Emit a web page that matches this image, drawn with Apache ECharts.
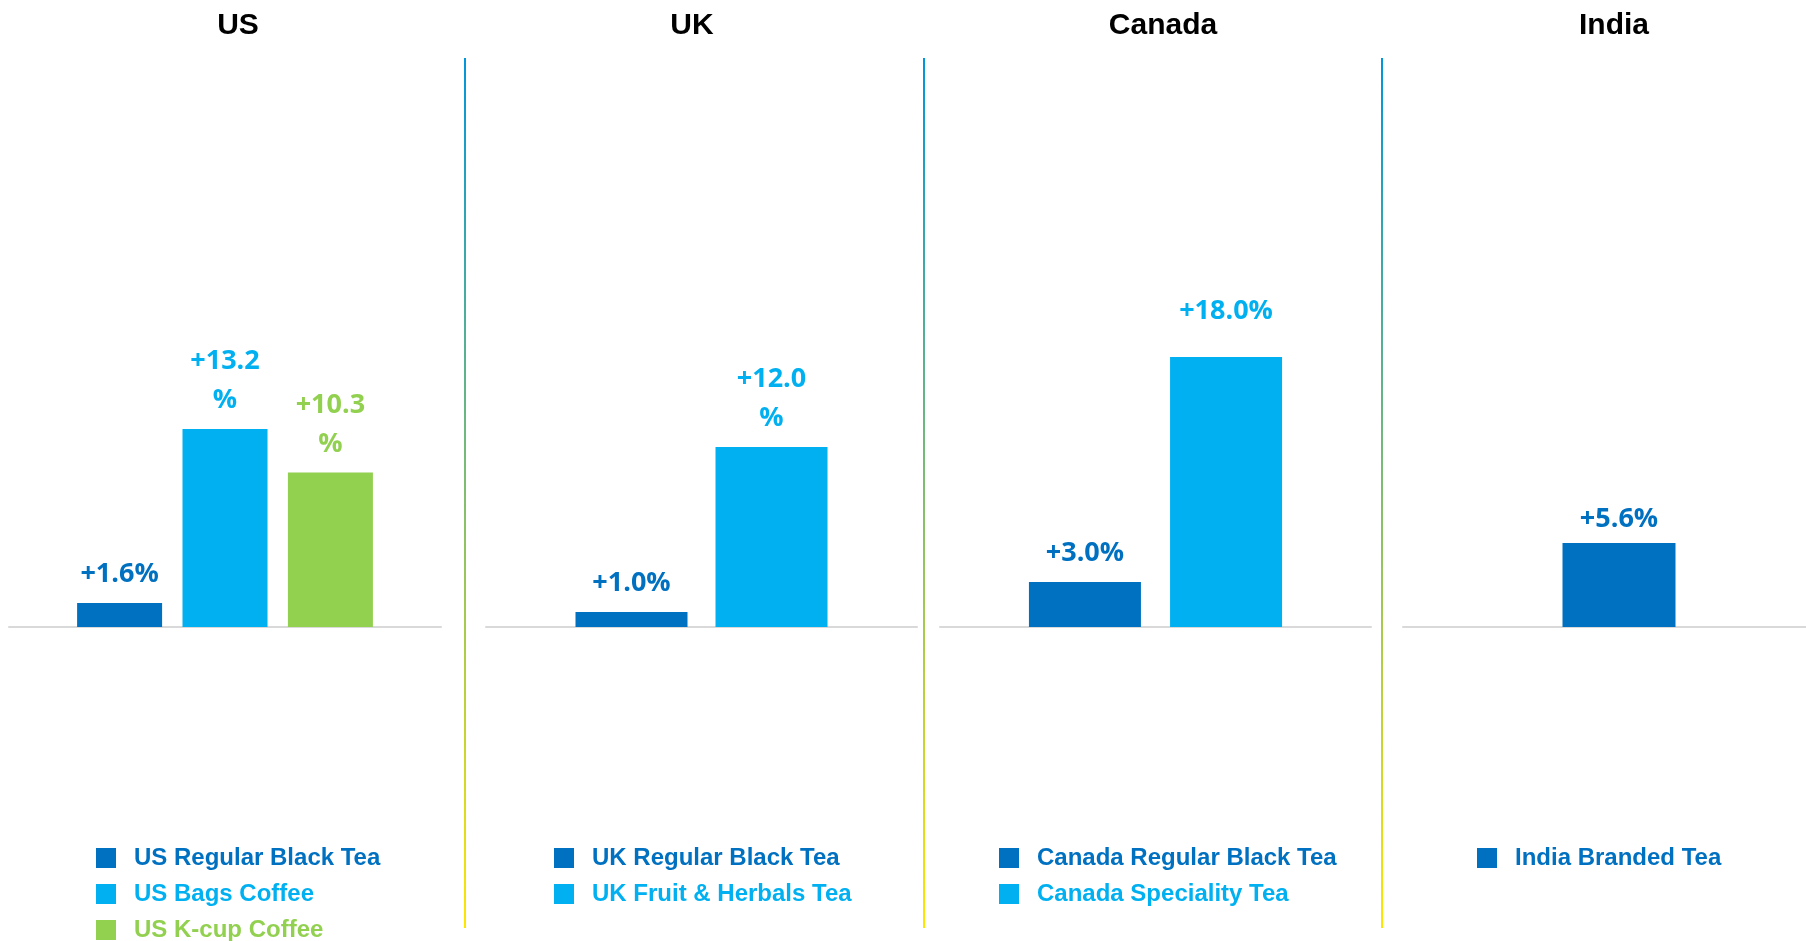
<!DOCTYPE html>
<html>
<head>
<meta charset="utf-8">
<script src="https://cdn.jsdelivr.net/npm/echarts@6/dist/echarts.min.js"></script>
<style>
  html, body { margin: 0; padding: 0; background: #fff; }
  #chart { width: 1806px; height: 941px; }
</style>
</head>
<body>
<div id="chart"></div>
<script>
// panels (country titles)
var countries = ['US', 'UK', 'Canada', 'India'];

// series names and growth values per country
var usNames = ['US Regular Black Tea', 'US Bags Coffee', 'US K-cup Coffee'];
var usValues = [1.6, 13.2, 10.3];
var usLabels = ['+1.6%', '+13.2\n%', '+10.3\n%'];

var ukNames = ['UK Regular Black Tea', 'UK Fruit & Herbals Tea'];
var ukValues = [1.0, 12.0];
var ukLabels = ['+1.0%', '+12.0\n%'];

var caNames = ['Canada Regular Black Tea', 'Canada Speciality Tea'];
var caValues = [3.0, 18.0];
var caLabels = ['+3.0%', '+18.0%'];

var inNames = ['India Branded Tea'];
var inValues = [5.6];
var inLabels = ['+5.6%'];

var colors = ['#0070C0', '#00B0F0', '#92D050'];

var myChart = echarts.init(document.getElementById('chart'));

// layout for each panel
var panels = [
  {names: usNames, values: usValues, labels: usLabels, left: 9,    right: 1365, barWidth: 85,  gap: '24%', titleX: 238,  legendX: 96,   dist: [9, 9, 9]},
  {names: ukNames, values: ukValues, labels: ukLabels, left: 486,  right: 889,  barWidth: 112, gap: '25%', titleX: 692,  legendX: 554,  dist: [9, 9]},
  {names: caNames, values: caValues, labels: caLabels, left: 940,  right: 435,  barWidth: 112, gap: '26%', titleX: 1163, legendX: 999,  dist: [9, 26]},
  {names: inNames, values: inValues, labels: inLabels, left: 1403, right: -29,  barWidth: 113, gap: '25%', titleX: 1614, legendX: 1477, dist: [4]}
];

var grids = [], xAxes = [], yAxes = [], series = [], legends = [], graphics = [];

panels.forEach(function (p, i) {
  grids.push({left: p.left, right: p.right, top: 177, bottom: 164, outerBoundsMode: 'none'});
  xAxes.push({
    type: 'category', gridIndex: i, data: [''],
    axisLine: {onZero: true, lineStyle: {color: '#d9d9d9', width: 2}},
    axisTick: {show: false}, axisLabel: {show: false}
  });
  yAxes.push({type: 'value', gridIndex: i, min: -10, max: 30, show: false, splitLine: {show: false}});

  var legendData = [];
  p.names.forEach(function (name, j) {
    series.push({
      name: name, type: 'bar',
      xAxisIndex: i, yAxisIndex: i,
      barWidth: p.barWidth, barGap: p.gap,
      itemStyle: {color: colors[j]},
      label: {
        show: true, position: 'top', distance: p.dist[j],
        formatter: p.labels[j],
        color: colors[j], fontFamily: 'Open Sans', fontWeight: 'bold',
        fontSize: 27, lineHeight: 39
      },
      data: [p.values[j]]
    });
    legendData.push({name: name, textStyle: {color: colors[j]}});
  });

  legends.push({
    orient: 'vertical', left: p.legendX, top: 846, height: 200, padding: 0,
    itemWidth: 20, itemHeight: 20, itemGap: 12,
    icon: 'rect', selectedMode: false,
    data: legendData,
    textStyle: {fontFamily: 'Liberation Sans', fontWeight: 'bold', fontSize: 24, padding: [0, 0, 0, 13]}
  });

  graphics.push({
    type: 'text', x: p.titleX, y: 26,
    style: {
      text: countries[i], textAlign: 'center', textVerticalAlign: 'middle',
      font: 'bold 30px "Liberation Sans"', fill: '#000'
    }
  });
});

// gradient dividers between panels
[465, 924, 1382].forEach(function (x) {
  graphics.push({
    type: 'rect', shape: {x: x - 1, y: 58, width: 2, height: 870},
    style: {
      fill: new echarts.graphic.LinearGradient(0, 0, 0, 1, [
        {offset: 0, color: '#0096DC'},
        {offset: 1, color: '#FFE600'}
      ])
    }
  });
});

var option = {
  animation: false,
  grid: grids,
  xAxis: xAxes,
  yAxis: yAxes,
  legend: legends,
  series: series,
  graphic: graphics
};
myChart.setOption(option, true);
</script>
</body>
</html>
